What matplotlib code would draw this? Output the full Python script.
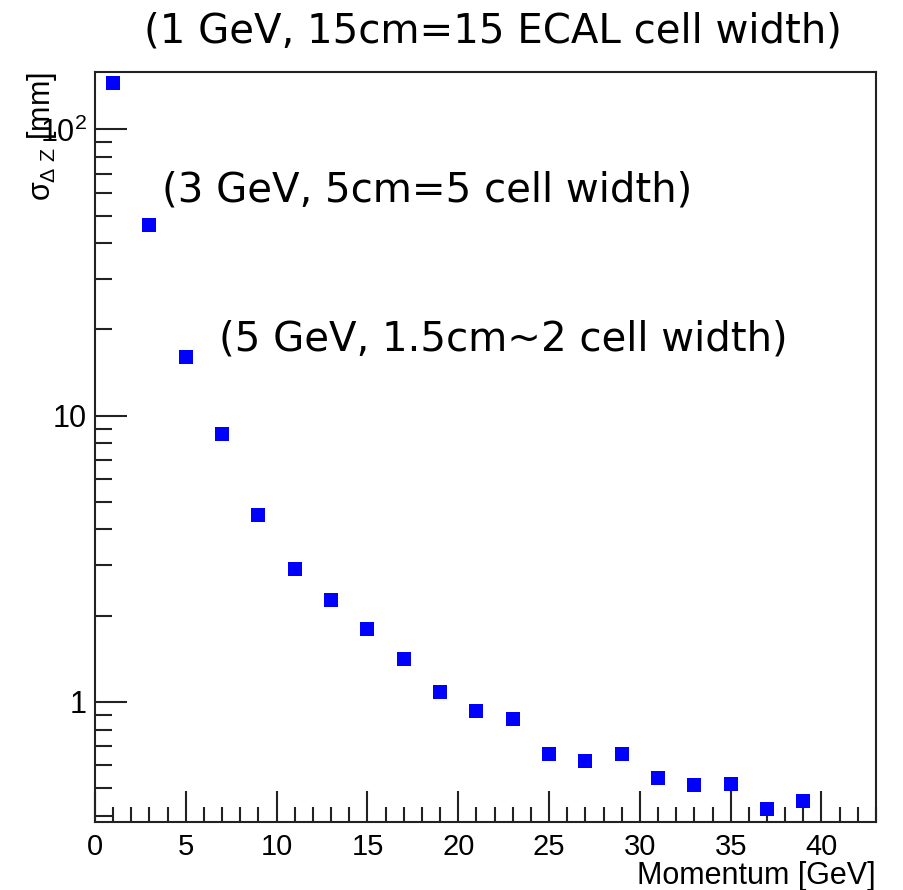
import matplotlib
matplotlib.use('Agg')
import matplotlib.pyplot as plt
from matplotlib.ticker import FixedLocator, NullFormatter, MultipleLocator

# momentum points [GeV] and sigma_dZ [mm]
momentum = [1, 3, 5, 7, 9, 11, 13, 15, 17, 19, 21, 23, 25, 27, 29, 31, 33, 35, 37, 39]
sigma_dz = [145, 46.4, 16.0, 8.65, 4.51, 2.92, 2.26, 1.79, 1.41, 1.08,
            0.928, 0.87, 0.656, 0.621, 0.656, 0.540, 0.512, 0.517, 0.422, 0.449]

y_major = [1, 10, 100]
y_major_labels = ['1', '10', r'$10^{2}$']
notes = ['(1 GeV, 15cm=15 ECAL cell width)',
         '(3 GeV, 5cm=5 cell width)',
         '(5 GeV, 1.5cm~2 cell width)']

plt.rcParams['font.family'] = ['Liberation Sans', 'DejaVu Sans']
plt.rcParams['mathtext.fontset'] = 'custom'
plt.rcParams['mathtext.rm'] = 'Liberation Sans'
plt.rcParams['mathtext.it'] = 'Liberation Sans'

fig = plt.figure(figsize=(9.04, 8.90), dpi=100)
ax = fig.add_axes([0.1051, 0.0767, 0.8639, 0.8427])

ax.plot(momentum, sigma_dz, 's', color='#0000ff', markersize=9.5, markeredgewidth=0)

ax.set_yscale('log')
ax.set_xlim(0, 43)
ax.set_ylim(0.381, 159)

ax.xaxis.set_major_locator(MultipleLocator(5))
ax.xaxis.set_minor_locator(MultipleLocator(1))
ax.yaxis.set_major_locator(FixedLocator(y_major))
ax.set_yticklabels(y_major_labels)
minors = [m * 10.0 ** e for e in (-1, 0, 1, 2) for m in range(2, 10)]
ax.yaxis.set_minor_locator(FixedLocator(minors))
ax.yaxis.set_minor_formatter(NullFormatter())

ax.tick_params(which='both', direction='in', top=False, right=False,
               width=1.5, color='#222222')
ax.tick_params(axis='x', which='major', length=22, pad=8, labelsize=21)
ax.tick_params(axis='x', which='minor', length=11)
ax.tick_params(axis='y', which='major', length=23, pad=6, labelsize=22)
ax.tick_params(axis='y', which='minor', length=12)
for s in ax.spines.values():
    s.set_linewidth(1.5)
    s.set_color('#222222')

ax.set_xlabel('Momentum [GeV]', fontsize=22, loc='right', labelpad=0)
ax.set_ylabel(r'$\sigma_{\Delta\ Z}$ [mm]', fontsize=22, loc='top')
ax.yaxis.set_label_coords(-0.046, 1.0)

# annotations
note_font = ['DejaVu Sans']
fig.text(0.545, 1 - 43 / 890, notes[0], fontsize=29, family=note_font,
         ha='center', va='baseline')
ax.text(3.7, 56.2, notes[1], fontsize=29, family=note_font,
        ha='left', va='baseline')
ax.text(6.8, 16.9, notes[2], fontsize=29, family=note_font,
        ha='left', va='baseline')

fig.savefig('out.png', dpi=100)
